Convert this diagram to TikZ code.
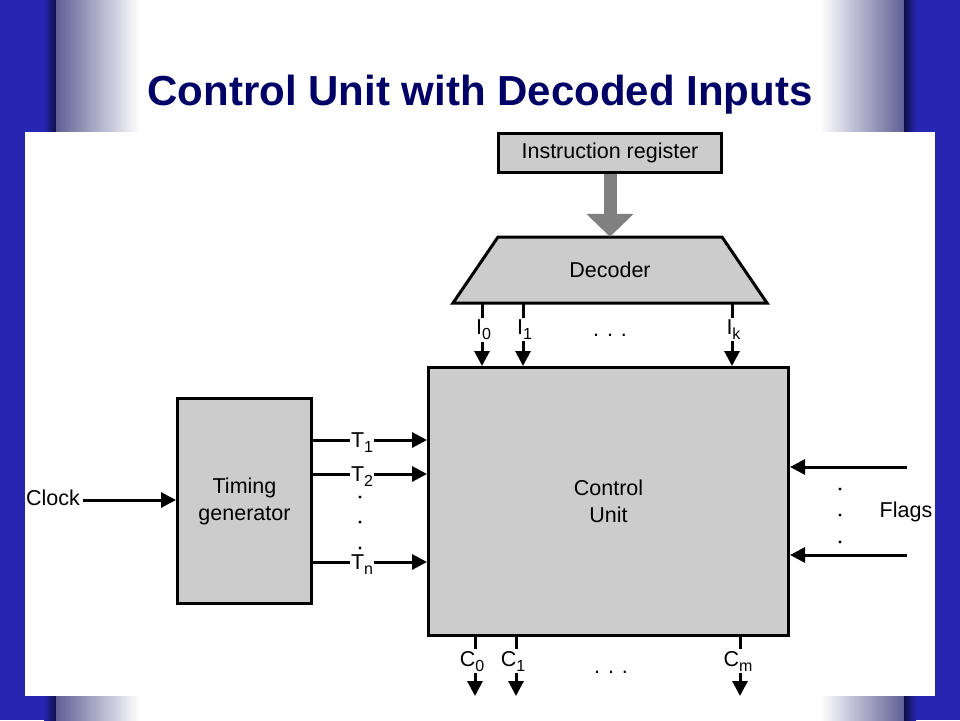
\documentclass[tikz,border=0pt]{standalone}
\usepackage{fontspec}
\setmainfont{Liberation Sans}
\usetikzlibrary{arrows.meta}
\definecolor{titleblue}{RGB}{0,0,102}
\definecolor{bgblue}{RGB}{38,38,178}
\definecolor{bgdark}{RGB}{15,15,70}
\definecolor{bgfade}{RGB}{95,95,150}
\definecolor{boxgray}{RGB}{204,204,204}
\definecolor{busgray}{RGB}{128,128,128}
\newcommand{\sigsub}[1]{\raisebox{-5pt}{\fontsize{16}{18}\selectfont #1}}
\tikzset{
  txt/.style={font=\fontsize{21.5}{27}\selectfont},
  block/.style={txt,draw,line width=3pt,fill=boxgray,align=center},
  sig/.style={line width=3pt,-{Triangle[length=15pt,width=15pt]}},
  hlab/.style={txt,fill=white,inner sep=1pt,anchor=base,yshift=-7.5pt},
  vlab/.style={txt,fill=white,inner xsep=0pt,inner ysep=2pt},
  dotmark/.style={circle,fill,inner sep=1.1pt}
}
\begin{document}
\begin{tikzpicture}[x=1pt,y=-1pt]
  \useasboundingbox (0,0) rectangle (960,720);
  % slide background
  \fill[white] (0,0) rectangle (960,720);
  \fill[bgblue] (0,0) rectangle (56,720);
  \shade[left color=bgblue,right color=bgdark] (44,0) rectangle (56,720);
  \shade[left color=bgfade,right color=white] (56,0) rectangle (140,720);
  \shade[left color=white,right color=bgfade] (820,0) rectangle (904,720);
  \shade[left color=bgdark,right color=bgblue] (904,0) rectangle (916,720);
  \fill[bgblue] (916,0) rectangle (960,720);
  \fill[white] (25,132) rectangle (935,696);
  \node[font=\fontsize{42}{50}\selectfont\bfseries,text=titleblue,anchor=base] (title) at (480,105) {Control Unit with Decoded Inputs};
  % blocks
  \node[block,minimum width=223pt,minimum height=39pt] (ir) at (610,153) {Instruction register};
  \draw[line width=3pt,fill=boxgray] (498,237) -- (722,237) -- (767,303) -- (453,303) -- cycle;
  \node[txt,minimum width=224pt,minimum height=66pt] (dec) at (610,270) {Decoder};
  \node[block,minimum width=360pt,minimum height=268pt] (cu) at (608.5,501.5) {Control\\Unit};
  \node[block,minimum width=134pt,minimum height=205pt] (tg) at (244.5,501) {Timing\\generator};
  \draw[busgray,line width=13pt,-{Triangle[length=23pt,width=46pt]}] (ir.south) -- (dec.north);
  % decoder outputs
  \coordinate (i0) at (482,0);
  \coordinate (i1) at (523,0);
  \coordinate (ik) at (732,0);
  \draw[sig] (dec.south -| i0) -- node[vlab,pos=0.42,xshift=1.5pt] (i0lab) {I\sigsub{0}} (cu.north -| i0);
  \draw[sig] (dec.south -| i1) -- node[vlab,pos=0.42,xshift=1.5pt] (i1lab) {I\sigsub{1}} (cu.north -| i1);
  \draw[sig] (dec.south -| ik) -- node[vlab,pos=0.42,xshift=1.5pt] (iklab) {I\sigsub{k}} (cu.north -| ik);
  \node[txt,anchor=base] (idots) at (610,336) {. . .};
  % timing signals
  \coordinate (t1) at (0,440);
  \coordinate (t2) at (0,474);
  \coordinate (tn) at (0,562);
  \draw[sig] (tg.east |- t1) -- node[hlab,pos=0.43] (t1lab) {T\sigsub{1}} (cu.west |- t1);
  \draw[sig] (tg.east |- t2) -- node[hlab,pos=0.43] (t2lab) {T\sigsub{2}} (cu.west |- t2);
  \draw[sig] (tg.east |- tn) -- node[hlab,pos=0.43] (tnlab) {T\sigsub{n}} (cu.west |- tn);
  \node[dotmark] (td1) at (360,497) {};
  \node[dotmark] (td2) at (360,522) {};
  \node[dotmark] (td3) at (360,548) {};
  % clock
  \node[txt] (clock) at (53,498) {Clock};
  \coordinate (clk) at (0,500);
  \draw[sig] (clock.east |- clk) -- (tg.west |- clk);
  % flags
  \node[txt] (flags) at (906,512) {Flags};
  \coordinate (f1) at (907,467);
  \coordinate (f2) at (907,555);
  \draw[sig] (f1) -- (f1 -| cu.east);
  \draw[sig] (f2) -- (f2 -| cu.east);
  \node[dotmark] (fd1) at (840,489) {};
  \node[dotmark] (fd2) at (840,515) {};
  \node[dotmark] (fd3) at (840,542) {};
  % control outputs
  \coordinate (c0) at (475,0);
  \coordinate (c1) at (516,0);
  \coordinate (cm) at (740,0);
  \coordinate (cend) at (0,696);
  \draw[sig] (cu.south -| c0) -- node[vlab,pos=0.41,xshift=-3pt] (c0lab) {C\sigsub{0}} (c0 |- cend);
  \draw[sig] (cu.south -| c1) -- node[vlab,pos=0.41,xshift=-3pt] (c1lab) {C\sigsub{1}} (c1 |- cend);
  \draw[sig] (cu.south -| cm) -- node[vlab,pos=0.41,xshift=-2pt] (cmlab) {C\sigsub{m}} (cm |- cend);
  \node[txt,anchor=base] (cdots) at (611,673) {. . .};
\end{tikzpicture}
\end{document}
